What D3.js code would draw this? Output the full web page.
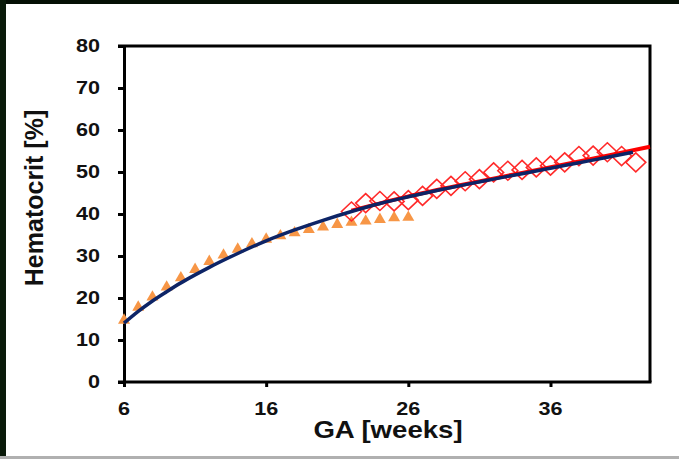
<!DOCTYPE html>
<html>
<head>
<meta charset="utf-8">
<script src="https://cdn.jsdelivr.net/npm/d3@7"></script>
<style>
  html, body { margin: 0; padding: 0; background: #fff; }
  svg { display: block; }
  text { font-family: "Liberation Sans", Arial, sans-serif; font-weight: bold; fill: #111; }
</style>
</head>
<body>
<svg id="chart" width="679" height="459"></svg>
<script>
// ---- data ----
const xTicks = [6, 16, 26, 36];
const yTicks = [0, 10, 20, 30, 40, 50, 60, 70, 80];

const triWeeks  = [6, 7, 8, 9, 10, 11, 12, 13, 14, 15, 16, 17, 18, 19, 20, 21, 22, 23, 24, 25, 26];
const triValues = [14.7, 17.8, 20.2, 22.6, 24.8, 26.8, 28.7, 30.2, 31.6, 32.9, 34.0, 34.8, 35.5, 36.3, 36.9, 37.5, 38.0, 38.3, 38.7, 39.1, 39.2];

const diaWeeks  = [22, 23, 24, 25, 26, 27, 28, 29, 30, 31, 32, 33, 34, 35, 36, 37, 38, 39, 40, 41, 42];
const diaValues = [40.6, 42.6, 43.1, 43.0, 43.3, 44.3, 46.0, 46.7, 47.8, 48.3, 49.9, 50.3, 50.5, 51.1, 51.5, 52.3, 53.8, 53.9, 54.7, 53.8, 52.3];

const navyWeeks  = [6, 7, 8, 9, 10, 11, 12, 14, 16, 18, 20, 22, 24, 26, 28, 30, 32, 34, 36, 38, 40, 41.8];
const navyValues = [14.0, 16.8, 19.3, 21.5, 23.6, 25.5, 27.3, 30.6, 33.6, 36.2, 38.5, 40.6, 42.5, 44.1, 45.6, 47.0, 48.3, 49.6, 50.9, 52.2, 53.5, 54.7];

const redWeeks  = [22, 26, 30, 34, 38, 40, 43];
const redValues = [40.8, 44.2, 47.1, 49.8, 52.5, 53.9, 56.0];

const xLabel = "GA [weeks]";
const yLabel = "Hematocrit [%]";

// ---- layout ----
const svg = d3.select("#chart");
const pL = 124, pR = 650, pT = 46, pB = 382;
const x = d3.scaleLinear().domain([6, 43]).range([pL, pR]);
const y = d3.scaleLinear().domain([0, 80]).range([pB, pT]);
const SX = 1.2; // horizontal stretch of the reference tick text

// frame of the picture
svg.append("rect").attr("x", 0).attr("y", 0).attr("width", 679).attr("height", 459).attr("fill", "#fff");
svg.append("rect").attr("x", 0).attr("y", 0).attr("width", 679).attr("height", 4).attr("fill", "#050f05");
svg.append("rect").attr("x", 0).attr("y", 0).attr("width", 6).attr("height", 459).attr("fill", "#0a1a0a");
svg.append("rect").attr("x", 0).attr("y", 456).attr("width", 679).attr("height", 3).attr("fill", "#b0b0b0");

// plot border (top + right)
svg.append("path")
  .attr("d", `M${pL - 6},${pT} H${pR} V${pB}`)
  .attr("fill", "none").attr("stroke", "#000").attr("stroke-width", 3);

// axes
const yAxis = d3.axisLeft(y).tickValues(yTicks).tickSize(6).tickSizeOuter(0).tickPadding(0).tickFormat(() => "");
const gy = svg.append("g").attr("transform", `translate(${pL},0)`).call(yAxis);
const xAxis = d3.axisBottom(x).tickValues(xTicks).tickSize(5).tickSizeOuter(0).tickFormat(() => "");
const gx = svg.append("g").attr("transform", `translate(0,${pB})`).call(xAxis);
[gx, gy].forEach(g => {
  g.select(".domain").attr("stroke", "#000").attr("stroke-width", 3);
  g.selectAll(".tick line").attr("stroke", "#000").attr("stroke-width", 3);
});
gx.select(".domain").attr("d", `M${pL - 6},0H${pR + 1.5}`);

// tick labels
svg.append("g").selectAll("text").data(yTicks).join("text")
  .attr("transform", d => `translate(100,${y(d)}) scale(${SX},1)`)
  .attr("text-anchor", "end").attr("dy", "0.36em")
  .style("font-size", "18px")
  .text(d => d);
svg.append("g").selectAll("text").data(xTicks).join("text")
  .attr("transform", d => `translate(${x(d)},415) scale(${SX},1)`)
  .attr("text-anchor", "middle")
  .style("font-size", "18px")
  .text(d => d);

// axis titles
svg.append("text")
  .attr("transform", `translate(388,438) scale(${SX},1)`)
  .attr("text-anchor", "middle").style("font-size", "23px")
  .text(xLabel);
svg.append("text")
  .attr("transform", `translate(43,198) rotate(-90)`)
  .attr("text-anchor", "middle").style("font-size", "25px")
  .text(yLabel);

// triangles
const tri = d3.symbol().type(d3.symbolTriangle).size(62);
svg.append("g").selectAll("path").data(triWeeks.map((w, i) => [w, triValues[i]])).join("path")
  .attr("d", tri)
  .attr("transform", d => `translate(${x(d[0])},${y(d[1])})`)
  .attr("fill", "#f79646");

// diamonds
const dw = 10, dh = 9.5;
svg.append("g").selectAll("path").data(diaWeeks.map((w, i) => [w, diaValues[i]])).join("path")
  .attr("d", `M0,${-dh}L${dw},0L0,${dh}L${-dw},0Z`)
  .attr("transform", d => `translate(${x(d[0])},${y(d[1])})`)
  .attr("fill", "none").attr("stroke", "#ff2a2a").attr("stroke-width", 1.6);

// fitted curves
const line = d3.line().x(d => x(d[0])).y(d => y(d[1])).curve(d3.curveMonotoneX);
svg.append("path")
  .datum(redWeeks.map((w, i) => [w, redValues[i]]))
  .attr("d", line).attr("fill", "none").attr("stroke", "#ff0000").attr("stroke-width", 4);
svg.append("path")
  .datum(navyWeeks.map((w, i) => [w, navyValues[i]]))
  .attr("d", line).attr("fill", "none").attr("stroke", "#0d2466").attr("stroke-width", 3.5);
</script>
</body>
</html>
